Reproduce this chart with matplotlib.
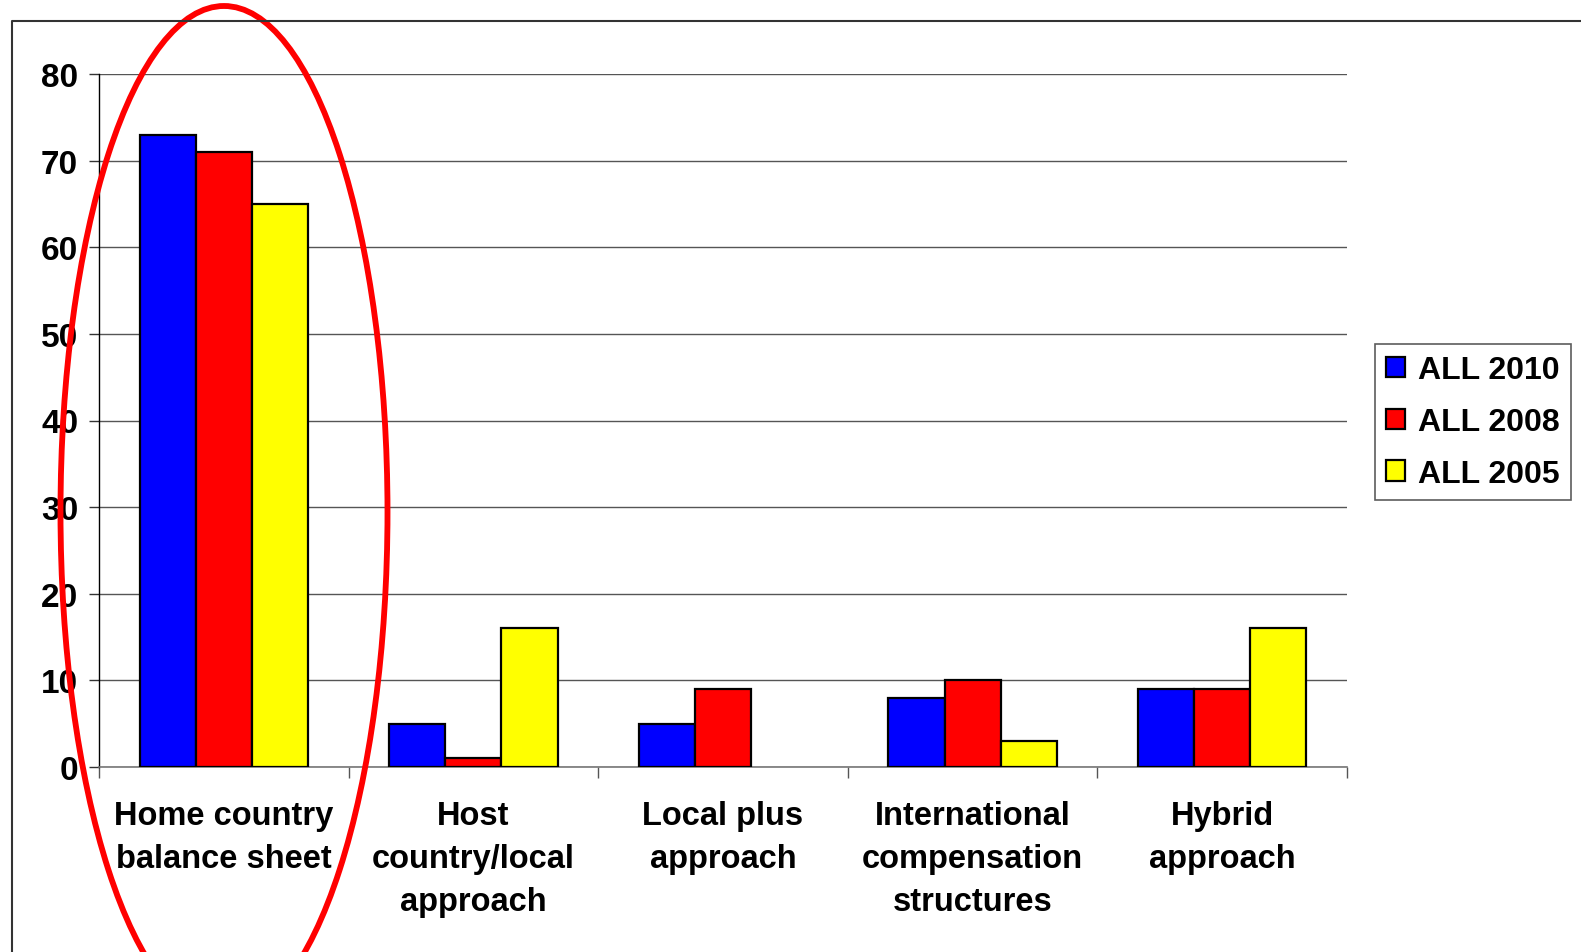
import numpy as np
import matplotlib
import matplotlib.pyplot as plt
from matplotlib.patches import Ellipse

matplotlib.use("Agg")

categories = ["Home country\nbalance sheet", "Host\ncountry/local\napproach",
              "Local plus\napproach", "International\ncompensation\nstructures",
              "Hybrid\napproach"]
series_names = ["ALL 2010", "ALL 2008", "ALL 2005"]
all_2010 = [73, 5, 5, 8, 9]
all_2008 = [71, 1, 9, 10, 9]
all_2005 = [65, 16, 0, 3, 16]
colors = ["#0000ff", "#ff0000", "#ffff00"]
y_ticks = [0, 10, 20, 30, 40, 50, 60, 70, 80]

plt.rcParams["font.family"] = ["Liberation Sans", "DejaVu Sans"]
plt.rcParams["font.weight"] = "bold"

W, H = 1581, 953
fig = plt.figure(figsize=(W / 100, H / 100), dpi=100)
ax = fig.add_axes([99 / W, 1 - 768 / H, (1347 - 99) / W, (768 - 75) / H])

x = np.arange(len(categories))
bw = 0.225
for i, (vals, name) in enumerate(zip([all_2010, all_2008, all_2005], series_names)):
    # zero-height bars leave no visible outline, as in the original
    ax.bar(x + (i - 1) * bw, vals, bw, color=colors[i], edgecolor="black",
           linewidth=[1.6 if v else 0 for v in vals], label=name, zorder=3)

ax.set_xlim(-0.5, len(categories) - 0.5)
ax.set_ylim(0, 80)
ax.set_yticks(y_ticks)
ax.set_yticklabels([str(v) for v in y_ticks], fontsize=24, fontweight="bold")
ax.yaxis.grid(True, color="#555555", linewidth=1.0, zorder=0)
ax.tick_params(axis="y", length=7, width=1, color="#333333", pad=8)

# category ticks at group boundaries, labels at centres
ax.set_xticks(np.arange(len(categories) + 1) - 0.5)
ax.set_xticklabels([])
ax.set_xticks(x, minor=True)
ax.set_xticklabels(categories, minor=True, fontsize=23.5, fontweight="bold",
                   linespacing=1.5)
ax.tick_params(axis="x", which="major", length=8, width=1, color="#555555")
ax.tick_params(axis="x", which="minor", length=0, pad=24)

for s in ["top", "right"]:
    ax.spines[s].set_visible(False)
ax.spines["left"].set_color("black")
ax.spines["left"].set_linewidth(1)
ax.spines["bottom"].set_color("#777777")
ax.spines["bottom"].set_linewidth(1.2)

leg = ax.legend(loc="center left", bbox_to_anchor=(1375 / W, 1 - 423 / H),
                bbox_transform=fig.transFigure, fontsize=23, frameon=True,
                fancybox=False, edgecolor="#333333", handlelength=0.6,
                handleheight=0.6, handletextpad=0.4, labelspacing=0.68,
                borderpad=0.35, borderaxespad=0)
leg.get_frame().set_linewidth(1.2)
for t in leg.get_texts():
    t.set_fontweight("bold")

# overlay in pixel coordinates: outer frame and the red ellipse
ov = fig.add_axes([0, 0, 1, 1], facecolor="none")
ov.set_xlim(0, W)
ov.set_ylim(H, 0)
ov.axis("off")
ov.plot([12, 12, W], [H, 22, 22], color="#333333", linewidth=1.5)
ov.add_patch(Ellipse((224, 513), 327, 1012, fill=False, edgecolor="#ff0000",
                     linewidth=4.2))

fig.savefig("out.png", dpi=100)
